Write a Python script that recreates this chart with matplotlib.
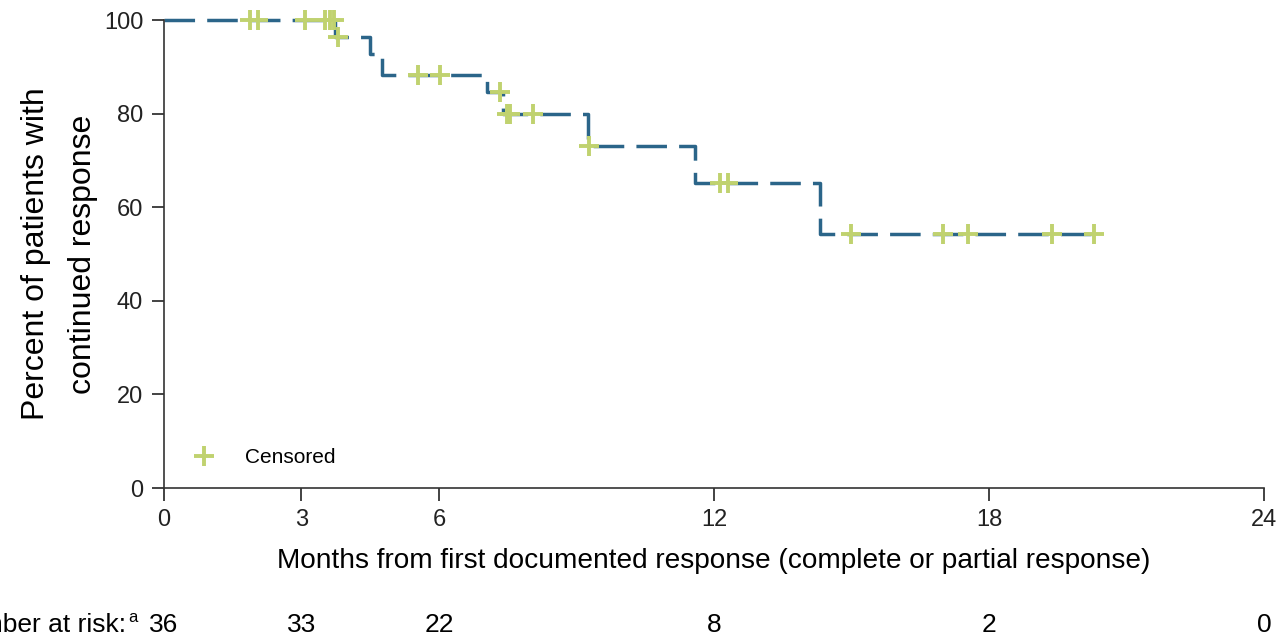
import numpy as np
import matplotlib.pyplot as plt
from matplotlib.lines import Line2D
from matplotlib.transforms import blended_transform_factory

plt.rcParams["font.family"] = ["Liberation Sans", "DejaVu Sans"]

LINE_COLOR = "#2b6589"
CENSOR_COLOR = "#c0d26f"

# Kaplan-Meier steps: months of each event and survival (%) after it
EVENT_MONTHS = [0.0, 3.74, 4.49, 4.76, 7.05, 7.40, 9.25, 11.59, 14.31]
SURVIVAL = [100.0, 96.4, 92.7, 88.2, 84.6, 80.0, 73.1, 65.2, 54.3]
LAST_FOLLOWUP = 20.42

CENSOR_MONTHS = [1.88, 2.05, 3.08, 3.51, 3.62, 3.71, 3.79, 5.54, 6.02, 7.33,
                 7.48, 7.56, 8.05, 9.27, 12.13, 12.30, 14.99, 17.00, 17.54, 19.38, 20.30]

RISK_MONTHS = [0, 3, 6, 12, 18, 24]
RISK_COUNTS = [36, 33, 22, 8, 2, 0]

X_TICKS = [0, 3, 6, 12, 18, 24]
Y_TICKS = [0, 20, 40, 60, 80, 100]


def survival_at(months):
    idx = np.searchsorted(EVENT_MONTHS, months, side="right") - 1
    return np.array(SURVIVAL)[idx]


def main():
    fig = plt.figure(figsize=(12.78, 6.37), dpi=100)
    ax = fig.add_axes([0.1283, 0.2339, 0.8607, 0.7347])

    step_x = EVENT_MONTHS + [LAST_FOLLOWUP]
    step_y = SURVIVAL + [SURVIVAL[-1]]
    ax.plot(step_x, step_y, drawstyle="steps-post", color=LINE_COLOR, lw=2.5,
            linestyle=(0, (8.8, 3.5)), zorder=2, clip_on=False)

    ax.plot(CENSOR_MONTHS, survival_at(CENSOR_MONTHS), linestyle="none", marker="+",
            markersize=14.5, markeredgewidth=2.8, color=CENSOR_COLOR, zorder=3, clip_on=False)

    ax.set_xlim(0, 24)
    ax.set_ylim(0, 100)
    ax.set_xticks(X_TICKS)
    ax.set_yticks(Y_TICKS)
    ax.tick_params(direction="out", length=9, width=1.2, labelsize=17, pad=6, colors="#222222")
    for side in ["top", "right"]:
        ax.spines[side].set_visible(False)
    for side in ["left", "bottom"]:
        ax.spines[side].set_linewidth(1.2)
        ax.spines[side].set_color("#333333")

    ax.set_xlabel("Months from first documented response (complete or partial response)",
                  fontsize=20.2, labelpad=12)
    ax.set_ylabel("Percent of patients with\ncontinued response", fontsize=23,
                  labelpad=4, linespacing=1.75)

    handle = Line2D([], [], linestyle="none", marker="+", markersize=14.5,
                    markeredgewidth=2.8, color=CENSOR_COLOR)
    ax.legend([handle], ["Censored"], loc="lower left", bbox_to_anchor=(0.0, 0.005),
              frameon=False, fontsize=15, handletextpad=1.0)

    trans = blended_transform_factory(ax.transData, ax.transAxes)
    for month, count in zip(RISK_MONTHS, RISK_COUNTS):
        ax.text(month, -0.293, str(count), transform=trans, ha="center", va="center",
                fontsize=19, clip_on=False)
    ax.text(-0.82, -0.293, "Number at risk:", transform=trans, ha="right", va="center",
            fontsize=19, clip_on=False)
    ax.text(-0.78, -0.277, "a", transform=trans, ha="left", va="center",
            fontsize=12, clip_on=False)

    fig.savefig("out.png", dpi=100)


if __name__ == "__main__":
    main()
